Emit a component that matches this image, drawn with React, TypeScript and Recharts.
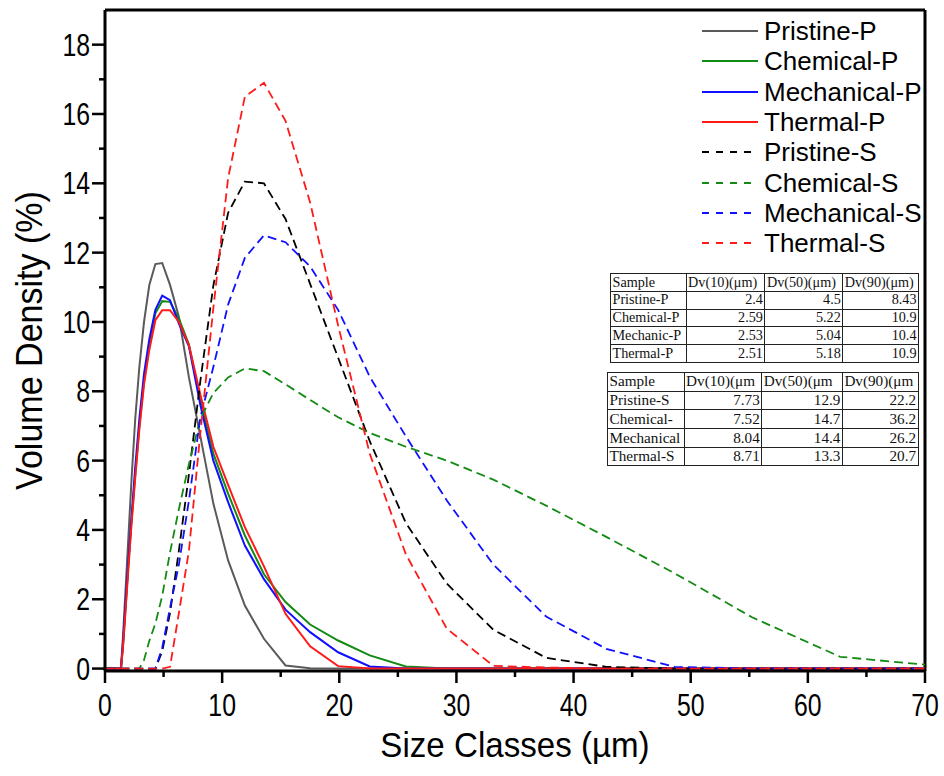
import React from 'react';
import { LineChart, Line, XAxis, YAxis, ReferenceLine, Legend } from 'recharts';

// Particle size classes (µm), geometric class midpoints
const sizeClasses = [0.106, 0.929, 1.056, 1.2, 1.363, 1.549, 1.759, 1.999, 2.271, 2.58, 2.932, 3.331, 3.784, 4.3, 4.885, 5.55, 6.306, 7.165, 8.141, 9.249, 10.51, 11.94, 13.57, 15.41, 17.51, 19.9, 22.6, 25.68, 29.18, 33.15, 37.66, 42.79, 48.62, 55.24, 62.76, 71.31];

const pristineP = [0, 0, 0, 0, 0, 1.0, 2.3, 3.8, 5.5, 7.2, 8.7, 10.0, 11.07, 11.67, 11.7, 11.07, 10.15, 8.4, 6.7, 4.76, 3.12, 1.82, 0.86, 0.09, 0.01, 0, 0, 0, 0, 0, 0, 0, 0, 0, 0, 0];
const chemicalP = [0, 0, 0, 0, 0, 0.7, 1.8, 3.0, 4.3, 5.6, 7.0, 8.3, 9.35, 10.25, 10.6, 10.58, 10.1, 9.35, 7.75, 6.2, 5.05, 3.84, 2.72, 1.92, 1.27, 0.81, 0.38, 0.06, 0, 0, 0, 0, 0, 0, 0, 0];
const mechanicalP = [0, 0, 0, 0, 0, 0.8, 1.9, 3.1, 4.4, 5.8, 7.2, 8.5, 9.5, 10.35, 10.76, 10.63, 9.95, 9.3, 7.6, 6.0, 4.8, 3.55, 2.58, 1.7, 1.05, 0.47, 0.06, 0, 0, 0, 0, 0, 0, 0, 0, 0];
const thermalP = [0, 0, 0, 0, 0, 0.7, 1.7, 2.9, 4.2, 5.5, 6.9, 8.2, 9.2, 10.05, 10.34, 10.34, 10.0, 9.33, 7.9, 6.4, 5.3, 4.08, 2.95, 1.58, 0.64, 0.07, 0, 0, 0, 0, 0, 0, 0, 0, 0, 0];
const pristineS = [0, 0, 0, 0, 0, 0, 0, 0, 0, 0, 0, 0, 0, 0, 0.5, 1.6, 3.4, 5.6, 8.3, 11.05, 13.15, 14.05, 14.0, 12.97, 11.1, 8.97, 6.56, 4.2, 2.45, 1.12, 0.31, 0.05, 0, 0, 0, 0];
const chemicalS = [0, 0, 0, 0, 0, 0, 0, 0, 0, 0, 0, 0.25, 0.8, 1.3, 2.1, 3.35, 4.6, 5.9, 7.2, 7.95, 8.4, 8.66, 8.58, 8.2, 7.75, 7.25, 6.8, 6.4, 6.0, 5.45, 4.7, 3.8, 2.75, 1.48, 0.34, 0.07];
const mechanicalS = [0, 0, 0, 0, 0, 0, 0, 0, 0, 0, 0, 0, 0, 0, 0.6, 1.75, 3.0, 4.85, 7.25, 8.7, 10.5, 11.85, 12.5, 12.3, 11.6, 10.35, 8.42, 6.7, 4.85, 3.0, 1.5, 0.57, 0.05, 0, 0, 0];
const thermalS = [0, 0, 0, 0, 0, 0, 0, 0, 0, 0, 0, 0, 0, 0, 0, 0.05, 1.6, 3.4, 6.8, 10.4, 14.15, 16.5, 16.9, 15.8, 13.45, 9.9, 6.2, 3.3, 1.15, 0.08, 0.03, 0, 0, 0, 0, 0];

const seriesNames = ['Pristine-P', 'Chemical-P', 'Mechanical-P', 'Thermal-P', 'Pristine-S', 'Chemical-S', 'Mechanical-S', 'Thermal-S'];
const seriesValues = [pristineP, chemicalP, mechanicalP, thermalP, pristineS, chemicalS, mechanicalS, thermalS];
const seriesColors = ['#5a5a5a', '#138a13', '#1010ff', '#ff1a1a', '#000000', '#138a13', '#1010ff', '#ff1a1a'];
const seriesDashed = [false, false, false, false, true, true, true, true];

const xTicks = [0, 5, 10, 15, 20, 25, 30, 35, 40, 45, 50, 55, 60, 65, 70];
const yTicks = [0, 1, 2, 3, 4, 5, 6, 7, 8, 9, 10, 11, 12, 13, 14, 15, 16, 17, 18];

const tableHeaderP = ['Sample', 'Dv(10)(μm)', 'Dv(50)(μm)', 'Dv(90)(μm)'];
const tableSamplesP = ['Pristine-P', 'Chemical-P', 'Mechanic-P', 'Thermal-P'];
const tableDv10P = ['2.4', '2.59', '2.53', '2.51'];
const tableDv50P = ['4.5', '5.22', '5.04', '5.18'];
const tableDv90P = ['8.43', '10.9', '10.4', '10.9'];

const tableHeaderS = ['Sample', 'Dv(10)(μm', 'Dv(50)(μm', 'Dv(90)(μm'];
const tableSamplesS = ['Pristine-S', 'Chemical-', 'Mechanical', 'Thermal-S'];
const tableDv10S = ['7.73', '7.52', '8.04', '8.71'];
const tableDv50S = ['12.9', '14.7', '14.4', '13.3'];
const tableDv90S = ['22.2', '36.2', '26.2', '20.7'];

const data = sizeClasses.map((x, i) => {
  const row: any = { x };
  seriesNames.forEach((n, k) => { row[n] = seriesValues[k][i]; });
  return row;
});

const SANS = '"Liberation Sans", Arial, sans-serif';
const SERIF = '"Liberation Serif", "Times New Roman", serif';
const DASH = '9 5';

const XTick = (props: any) => {
  const { x, y, payload } = props;
  const major = payload.value % 10 === 0;
  return (
    <g>
      <line x1={x} x2={x} y1={y} y2={y + (major ? 12 : 6)} stroke="#000" strokeWidth={2.5} />
      {major && (
        <text transform={`translate(${x},${y + 45}) scale(0.8,1)`} textAnchor="middle" fontSize={31} fontFamily={SANS} fill="#000">
          {payload.value}
        </text>
      )}
    </g>
  );
};

const YTick = (props: any) => {
  const { x, y, payload } = props;
  const major = payload.value % 2 === 0;
  return (
    <g>
      <line x1={x} x2={x - (major ? 13 : 6)} y1={y} y2={y} stroke="#000" strokeWidth={2.5} />
      {major && (
        <text transform={`translate(${x - 15},${y + 11}) scale(0.8,1)`} textAnchor="end" fontSize={31} fontFamily={SANS} fill="#000">
          {payload.value}
        </text>
      )}
    </g>
  );
};

const XTitle = (props: any) => {
  const vb = props.viewBox || {};
  const cx = vb.x + vb.width / 2;
  return (
    <text transform={`translate(${cx},${757}) scale(0.92,1)`} textAnchor="middle" fontSize={36} fontFamily={SANS} fill="#000">
      Size Classes (µm)
    </text>
  );
};

const YTitle = (props: any) => {
  const vb = props.viewBox || {};
  const cy = vb.y + vb.height / 2;
  return (
    <text transform={`translate(${42},${cy}) rotate(-90) scale(0.92,1)`} textAnchor="middle" fontSize={37} fontFamily={SANS} fill="#000">
      Volume Density (%)
    </text>
  );
};

const renderLegend = () => (
  <div style={{ fontFamily: SANS, fontSize: 26, color: '#000' }}>
    {seriesNames.map((n, k) => (
      <div key={n} style={{ height: 30.3, display: 'flex', alignItems: 'center' }}>
        <svg width={64} height={10} style={{ display: 'block' }}>
          <line x1={2} x2={58} y1={5} y2={5} stroke={seriesColors[k]} strokeWidth={2} strokeDasharray={seriesDashed[k] ? '7 7' : undefined} />
        </svg>
        <span style={{ lineHeight: '30px', whiteSpace: 'nowrap' }}>{n}</span>
      </div>
    ))}
  </div>
);

const DvTable = (p: { left: number; top: number; widths: number[]; rowH: number; fontSize: number; header: string[]; samples: string[]; c1: string[]; c2: string[]; c3: string[] }) => {
  const rows = [p.header, ...p.samples.map((s, i) => [s, p.c1[i], p.c2[i], p.c3[i]])];
  return (
    <table style={{ position: 'absolute', left: p.left, top: p.top, borderCollapse: 'collapse', tableLayout: 'fixed', background: '#fff', border: '1.6px solid #222', fontFamily: SERIF, fontSize: p.fontSize, color: '#111' }}>
      <tbody>
        {rows.map((r, ri) => (
          <tr key={ri} style={{ height: p.rowH }}>
            {r.map((c, ci) => (
              <td key={ci} style={{ width: p.widths[ci], maxWidth: p.widths[ci], height: p.rowH, padding: '0 1.5px', border: '1.3px solid #222', textAlign: ri === 0 || ci === 0 ? 'left' : 'right', whiteSpace: 'nowrap', overflow: 'hidden', lineHeight: `${p.rowH - 2}px`, boxSizing: 'border-box' }}>
                {c}
              </td>
            ))}
          </tr>
        ))}
      </tbody>
    </table>
  );
};

export default function App() {
  return (
    <div style={{ position: 'absolute', left: 0, top: 0, width: 944, height: 776, background: '#fff' }}>
      <LineChart width={944} height={776} data={data} margin={{ top: 10, right: 19, left: 0, bottom: 0 }}>
        <XAxis
          dataKey="x"
          type="number"
          domain={[0, 70]}
          allowDataOverflow
          ticks={xTicks}
          interval={0}
          height={105}
          tickSize={0}
          tickMargin={0}
          tickLine={false}
          tick={<XTick />}
          axisLine={{ stroke: '#000', strokeWidth: 3 }}
          label={<XTitle />}
        />
        <YAxis
          type="number"
          domain={[-0.07, 19]}
          allowDataOverflow
          ticks={yTicks}
          interval={0}
          width={105}
          tickSize={0}
          tickMargin={0}
          tickLine={false}
          tick={<YTick />}
          axisLine={{ stroke: '#000', strokeWidth: 3 }}
          label={<YTitle />}
        />
        <ReferenceLine y={19} stroke="#000" strokeWidth={3} />
        <ReferenceLine x={70} stroke="#000" strokeWidth={3} />
        {seriesNames.map((n, k) => (
          <Line
            key={n}
            type="linear"
            dataKey={n}
            name={n}
            stroke={seriesColors[k]}
            strokeWidth={seriesDashed[k] ? 1.8 : 2}
            strokeDasharray={seriesDashed[k] ? DASH : undefined}
            dot={false}
            activeDot={false}
            isAnimationActive={false}
          />
        ))}
        <Legend layout="vertical" align="center" verticalAlign="middle" content={renderLegend} wrapperStyle={{ left: 700, top: 16, width: 235 }} />
      </LineChart>
      <DvTable left={610} top={273} widths={[75.6, 78.8, 77.9, 75.7]} rowH={17.8} fontSize={14.2} header={tableHeaderP} samples={tableSamplesP} c1={tableDv10P} c2={tableDv50P} c3={tableDv90P} />
      <DvTable left={607} top={372} widths={[76.6, 77.7, 80.6, 75.7]} rowH={18.7} fontSize={15.2} header={tableHeaderS} samples={tableSamplesS} c1={tableDv10S} c2={tableDv50S} c3={tableDv90S} />
    </div>
  );
}
